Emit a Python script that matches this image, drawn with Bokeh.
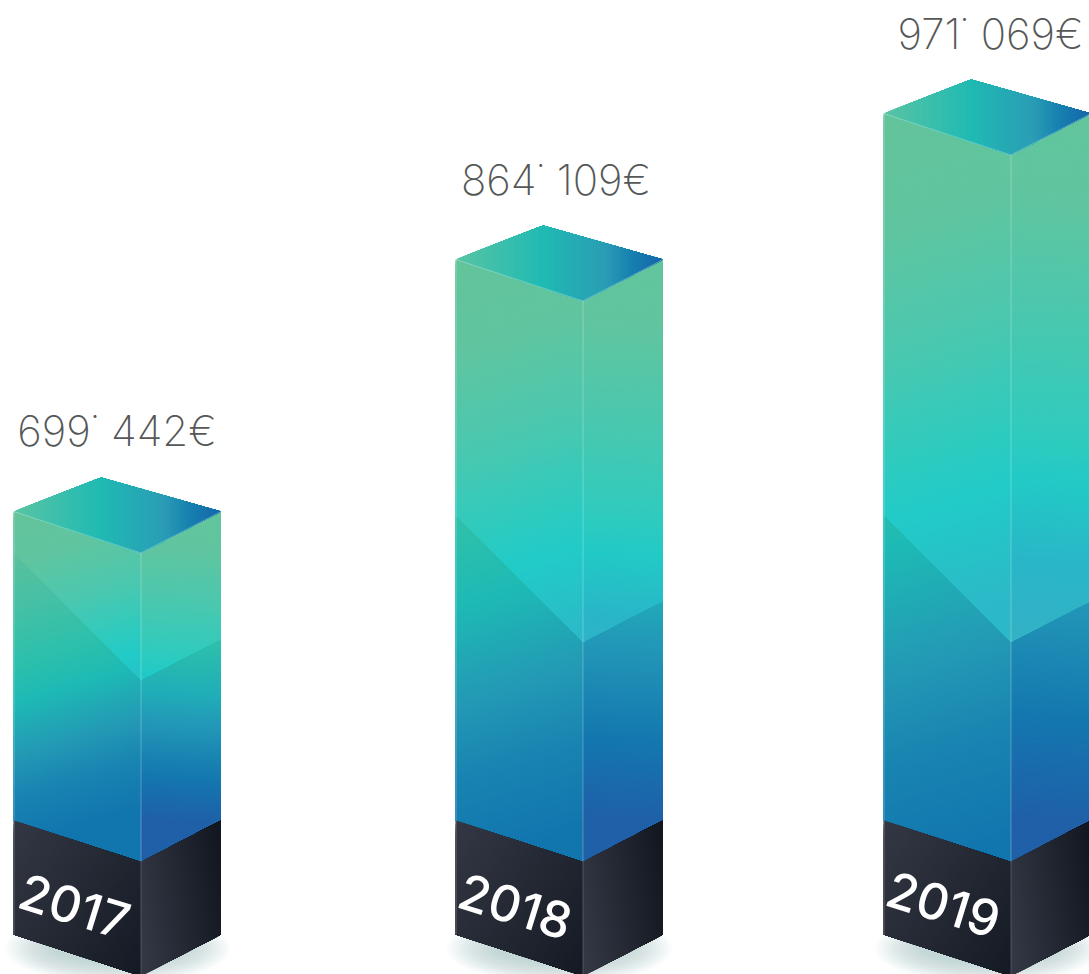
from bokeh.plotting import figure
from bokeh.models import Range1d
from bokeh.core.properties import value
from bokeh.embed import file_html
from bokeh.resources import INLINE
import numpy as np

# ---- data
years = ["2017", "2018", "2019"]
amount_labels = ["699˙ 442€", "864˙ 109€", "971˙ 069€"]
column_heights = [309, 561, 707]      # drawn height of the coloured part
fold_heights = [181, 219, 219]        # height of the fold on the front edge

# ---- layout
W, H = 1089, 974
lefts = [13, 455, 883]
BASE_Y = 820          # y of left/right lower corner of coloured part
FACE_L = 127.5        # width of left face
FACE_R = 80           # width of right face
DROP = 41.5           # front corner is this far below left/right corner
BACK_X = 87.5         # back corner, measured from left
BACK_UP = 34
BASE_H = 114
label_x = [116.5, 555.5, 990]
label_base = [430, 179, 33]
year_x = [74, 515, 943]
year_y = [906, 906, 904]

# ---- colour ramps (position along the gradient, colour)
UP_LEFT = [(0, "#63C49B"), (.15, "#60C5A0"), (.33, "#4AC8B0"), (.48, "#2ECBBF"),
           (.56, "#22CBC8"), (.72, "#2CB9C8")]
LOW_LEFT = [(0, "#68C096"), (.3, "#48C0A5"), (.5, "#2CC0AC"), (.62, "#1EBAB5"),
            (.8, "#2498B5"), (.92, "#1985B2"), (1.08, "#1276AE")]
UP_RIGHT = [(0, "#62C59C"), (.12, "#60C5A0"), (.3, "#48C8B0"), (.45, "#30CBBE"),
            (.52, "#22CAC6"), (.64, "#2AB5C8"), (.8, "#3AB0C5")]
LOW_RIGHT = [(.3, "#30C0A8"), (.42, "#2CBFAC"), (.58, "#20AEB8"), (.68, "#2398B8"),
             (.85, "#1478AF"), (.93, "#1A6AAC"), (1.0, "#2060A8")]
TOP = [(0, "#5AC4A3"), (.42, "#1FBAB3"), (.72, "#2A9DB5"), (.85, "#1680AF"), (1, "#1565AA")]
BASE_L = [(0, "#343844"), (1, "#141A24")]
BASE_R = [(0, "#343844"), (1, "#11161F")]


def ramp(stops, t):
    xs = [s[0] for s in stops]
    rgb = [[int(s[1][i:i + 2], 16) for i in (1, 3, 5)] for s in stops]
    c = [float(np.interp(t, xs, [r[k] for r in rgb])) for k in range(3)]
    return "#%02x%02x%02x" % tuple(int(round(v)) for v in c)


def clip(poly, a, b, c):
    """keep the part of poly where a*x + b*y >= c"""
    out = []
    n = len(poly)
    for i in range(n):
        p, q = poly[i], poly[(i + 1) % n]
        dp = a * p[0] + b * p[1] - c
        dq = a * q[0] + b * q[1] - c
        if dp >= 0:
            out.append(p)
        if dp * dq < 0:
            s = dp / (dp - dq)
            out.append((p[0] + s * (q[0] - p[0]), p[1] + s * (q[1] - p[1])))
    return out


xs_all, ys_all, cs_all = [], [], []


def add_gradient(poly, stops, a, b, c, step):
    """paint poly with a ramp along t = a*x + b*y + c, back to front"""
    ts = [a * x + b * y + c for x, y in poly]
    t0, t1 = min(ts), max(ts)
    for t in np.arange(t0, t1, step):
        part = clip(poly, a, b, t - c)
        if len(part) >= 3:
            xs_all.append([v[0] for v in part])
            ys_all.append([v[1] for v in part])
            cs_all.append(ramp(stops, t + step / 2))


p = figure(width=W, height=H, x_range=Range1d(0, W), y_range=Range1d(H, 0),
           toolbar_location=None, output_backend="svg", min_border=0,
           outline_line_color=None, background_fill_color="white")
p.xaxis.visible = False
p.yaxis.visible = False
p.grid.visible = False

# soft shadows under the blocks
LAYERS = 26
for x0 in lefts:
    for i in range(LAYERS):
        f = i / (LAYERS - 1)
        p.ellipse(x=[x0 + 104], y=[BASE_Y + BASE_H + 14], width=[226 - 100 * f], height=[72 - 44 * f],
                  fill_color="#9DC4C8", fill_alpha=.035, line_color=None)

edges = []
for x0, h, fold in zip(lefts, column_heights, fold_heights):
    xf = x0 + FACE_L
    xr = xf + FACE_R
    top = BASE_Y - h
    fy = BASE_Y + DROP
    front_top = top + DROP
    kink = fy - fold
    # left face: upper then lower part
    k = .3 / h
    step_l = 1.6 / h
    left = [(x0, top), (xf, front_top), (xf, fy), (x0, BASE_Y)]
    add_gradient(left, UP_LEFT, k, 1 / h, -(top + .3 * x0) / h - .02, step_l)
    low = [(x0, kink - FACE_L * 1.0), (xf, kink), (xf, fy), (x0, BASE_Y)]
    add_gradient(low, LOW_LEFT, k, 1 / h, -(top + .3 * x0) / h, step_l)
    # right face
    kr = -.06 / h
    right = [(xf, front_top), (xr, top), (xr, BASE_Y), (xf, fy)]
    add_gradient(right, UP_RIGHT, kr, 1 / h, -(top - .06 * xf) / h, step_l)
    low_r = [(xf, kink), (xr, kink - DROP), (xr, BASE_Y), (xf, fy)]
    add_gradient(low_r, LOW_RIGHT, kr, 1 / h, -(top - .06 * xf) / h, step_l)
    # top face
    w = FACE_L + FACE_R
    add_gradient([(x0, top), (x0 + BACK_X, top - BACK_UP), (xr, top), (xf, front_top)],
                 TOP, 1 / w, 0, -x0 / w, 1.5 / w)
    # base
    by = fy + BASE_H
    add_gradient([(x0, BASE_Y), (xf, fy), (xf, by), (x0, BASE_Y + BASE_H)],
                 BASE_L, .55 / FACE_L, .45 / (BASE_H + DROP), -.55 * x0 / FACE_L - .45 * BASE_Y / (BASE_H + DROP), .012)
    add_gradient([(xf, fy), (xr, BASE_Y), (xr, BASE_Y + BASE_H), (xf, by)],
                 BASE_R, .85 / FACE_R, -.15 / BASE_H, -.85 * xf / FACE_R + .15 * (BASE_Y + BASE_H) / BASE_H, .012)
    edges.append((x0, xf, xr, top, front_top, fy, by))

p.patches(xs_all, ys_all, fill_color=cs_all, line_color=None)

# thin light edges
for x0, xf, xr, top, front_top, fy, by in edges:
    p.line([xf, xf], [front_top, fy], line_color="white", line_alpha=.28, line_width=1)
    p.line([xf, xf], [fy, by], line_color="#6B7080", line_alpha=.6, line_width=1)
    p.line([x0, xf, xr], [top, front_top, top], line_color="white", line_alpha=.3, line_width=1)
    p.line([x0 + .5, x0 + .5], [top, BASE_Y], line_color="white", line_alpha=.3, line_width=1)
    p.line([x0 + .5, x0 + .5], [BASE_Y, BASE_Y + BASE_H], line_color="#8A8E98", line_alpha=.6, line_width=1)

p.text(x=label_x, y=label_base, text=amount_labels, text_font=value("Inter ExtraLight"), text_font_size="42px",
       text_color="#555857", text_align="center", text_baseline="alphabetic")
p.text(x=year_x, y=year_y, text=years, text_font=value("Inter Medium"), text_font_size="50px",
       text_color="white", text_align="center", text_baseline="middle", angle=-0.30)

open("out.html", "w").write(file_html(p, INLINE))
